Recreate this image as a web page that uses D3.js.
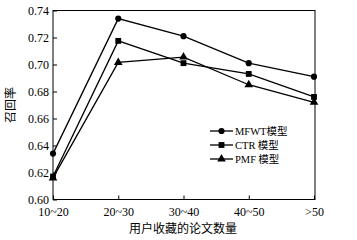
<!DOCTYPE html>
<html><head><meta charset="utf-8">
<script src="https://cdn.jsdelivr.net/npm/d3@7"></script>
<style>body{margin:0;background:#fff}svg{display:block}</style>
</head><body><svg id="c" width="357" height="240"></svg>
<script>
const categories = ["10~20","20~30","30~40","40~50",">50"];
const mfwt = [0.634,0.734,0.721,0.701,0.691];
const ctr  = [0.617,0.7175,0.701,0.693,0.676];
const pmf  = [0.616,0.7015,0.7055,0.685,0.672];
const yTicks = [0.60,0.62,0.64,0.66,0.68,0.70,0.72,0.74];
const seriesNames = ["MFWT模型","CTR 模型","PMF 模型"];
const seriesShapes = [d3.symbolCircle, d3.symbolSquare, d3.symbolTriangle];
const seriesSizes = [30, 34, 32];

const svg = d3.select("#c");
const L=53, R=315, T=10.5, B=199.5;
const x = d3.scalePoint().domain(categories).range([L,R-1]);
const y = d3.scaleLinear().domain([0.60,0.74]).range([B,T]);
const serif = "'Liberation Serif','Times New Roman',serif";
const cjk = "'Noto Sans CJK SC',sans-serif";

// frame
svg.append("rect").attr("x",L).attr("y",T).attr("width",R-L).attr("height",B-T)
  .attr("fill","none").attr("stroke","#000").attr("stroke-width",1);

const ya = svg.append("g").attr("transform",`translate(${L},0)`)
  .call(d3.axisLeft(y).tickValues(yTicks).tickFormat(d3.format(".2f")).tickSizeInner(-4).tickSizeOuter(0).tickPadding(4));
ya.select(".domain").remove();
ya.selectAll("text").attr("font-family",serif).attr("font-size",12).attr("fill","#000");

const xa = svg.append("g").attr("transform",`translate(0,${B})`)
  .call(d3.axisBottom(x).tickSizeInner(-4).tickSizeOuter(0).tickPadding(8));
xa.select(".domain").remove();
xa.selectAll("text").attr("font-family",serif).attr("font-size",12).attr("fill","#000");

svg.append("text").attr("x",183).attr("y",233).attr("text-anchor","middle")
  .attr("font-family",cjk).attr("font-size",12).text("用户收藏的论文数量");
svg.append("text").attr("transform","translate(15,105) rotate(-90)").attr("text-anchor","middle")
  .attr("font-family",cjk).attr("font-size",12).text("召回率");

const all = [mfwt, ctr, pmf];
const line = d3.line().x((d,i)=>x(categories[i])).y(d=>y(d));
all.forEach((s,k)=>{
  svg.append("path").datum(s).attr("d",line).attr("fill","none").attr("stroke","#000").attr("stroke-width",1.3);
  svg.selectAll(null).data(s).enter().append("path")
    .attr("transform",(d,i)=>`translate(${x(categories[i])},${y(d)})`)
    .attr("d",d3.symbol().type(seriesShapes[k]).size(seriesSizes[k])).attr("fill","#000");
});

// legend
const lg = svg.append("g");
const ly = [131,145,159];
seriesNames.forEach((n,k)=>{
  lg.append("line").attr("x1",210).attr("x2",233).attr("y1",ly[k]).attr("y2",ly[k]).attr("stroke","#000").attr("stroke-width",1.3);
  lg.append("path").attr("transform",`translate(221.5,${ly[k]})`).attr("d",d3.symbol().type(seriesShapes[k]).size(seriesSizes[k])).attr("fill","#000");
  const t = lg.append("text").attr("x",235).attr("y",ly[k]+4).attr("font-size",10.5);
  const m = n.match(/^([A-Z]+)(.*)$/);
  t.append("tspan").attr("font-family",serif).text(m[1]);
  t.append("tspan").attr("font-family",cjk).text(m[2]);
});
</script></body></html>
